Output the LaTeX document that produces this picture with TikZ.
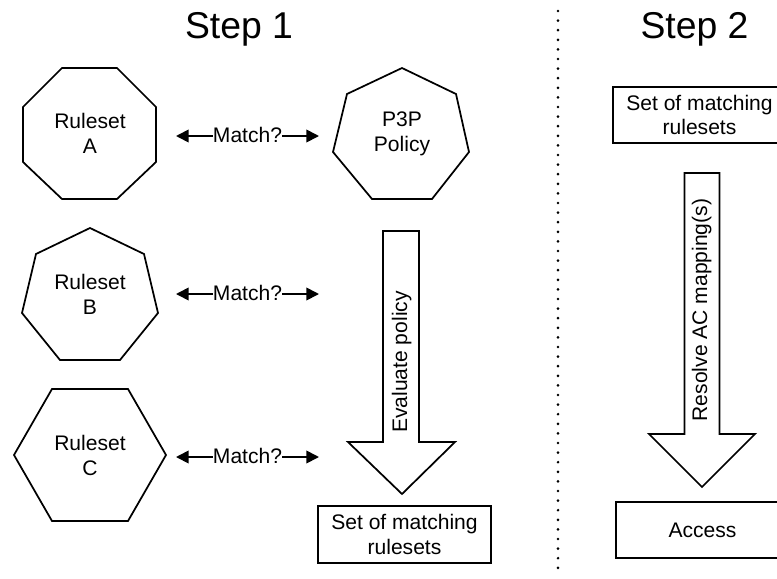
\documentclass[tikz,border=0pt]{standalone}
\usepackage{fontspec}
\setmainfont{Liberation Sans}
\usetikzlibrary{arrows.meta}
\tikzset{
 shp/.style={draw=black,line width=1.3pt,fill=white,line join=miter},
 lbl/.style={font=\fontsize{15.8}{18.7}\selectfont,align=center,inner sep=0pt},
 head/.style={font=\fontsize{28}{32}\selectfont,inner sep=0pt,anchor=base},
 conn/.style={line width=1.3pt,{Triangle[length=9.5pt,width=9.5pt]}-{Triangle[length=9.5pt,width=9.5pt]}},
 boxn/.style={draw=black,line width=1.3pt,fill=white,align=center,inner sep=0pt,font=\fontsize{15.8}{18.7}\selectfont,minimum width=129.75pt,minimum height=42.5pt},
 matchl/.style={lbl,fill=white,anchor=base,inner xsep=0.3pt,inner ysep=1pt},
 vert/.style={lbl,rotate=90,anchor=base}
}
\begin{document}
\begin{tikzpicture}[x=0.75pt,y=-0.75pt]
\useasboundingbox (0,0) rectangle (777,578);
\node[head] (h1) at (239,38) {Step 1};
\node[head] (h2) at (694.5,38) {Step 2};
\coordinate (da) at (558,11);\coordinate (db) at (558,577);
\draw[line width=2.2pt,line cap=round,dash pattern=on 0pt off 7.2pt] (da) -- (db);
% octagon
\draw[shp] (62,68)--(117,68)--(156,107)--(156,162)--(117,199)--(62,199)--(23,162)--(23,107)--cycle;
\node[lbl] (ra) at (90,133.5) {Ruleset\\A};
% heptagon P3P
\draw[shp] (402,68)--(456,94)--(469,152)--(432,199)--(372,199)--(333,152)--(347,94)--cycle;
\node[lbl] (pp) at (402,133.5) {P3P\\Policy};
% heptagon B
\draw[shp] (90,228)--(144,254)--(158,313)--(120,360)--(60,360)--(22,313)--(36,254)--cycle;
\node[lbl] (rb) at (90,294) {Ruleset\\B};
% hexagon
\draw[shp] (52,389)--(128,389)--(166,455)--(128,521)--(52,521)--(14,455)--cycle;
\node[lbl] (rc) at (90,455) {Ruleset\\C};
% Match
\coordinate (m1l) at (176,136);\coordinate (m1r) at (319,136);
\draw[conn] (m1l) -- (m1r);
\node[matchl] (m1) at (247.5,142) {Match?};
\coordinate (m2l) at (176,294);\coordinate (m2r) at (319,294);
\draw[conn] (m2l) -- (m2r);
\node[matchl] (m2) at (247.5,300) {Match?};
\coordinate (m3l) at (176,457);\coordinate (m3r) at (319,457);
\draw[conn] (m3l) -- (m3r);
\node[matchl] (m3) at (247.5,463) {Match?};
% arrow 1
\draw[shp] (383,231)--(419,231)--(419,442)--(455,442)--(402,494)--(348,442)--(383,442)--cycle;
\node[vert] (ev) at (407,362) {Evaluate policy};
% arrow 2
\draw[shp] (684.5,173)--(719.5,173)--(719.5,434)--(755,434)--(702,487)--(649,434)--(684.5,434)--cycle;
\node[vert] (res) at (707,310) {Resolve AC mapping(s)};
% boxes
\node[boxn] (s1) at (404.5,534.5) {Set of matching\\rulesets};
\node[boxn] (s2) at (699.5,115) {Set of matching\\rulesets};
\node[boxn] (ac) at (702.5,530) {Access};
\end{tikzpicture}
\end{document}
